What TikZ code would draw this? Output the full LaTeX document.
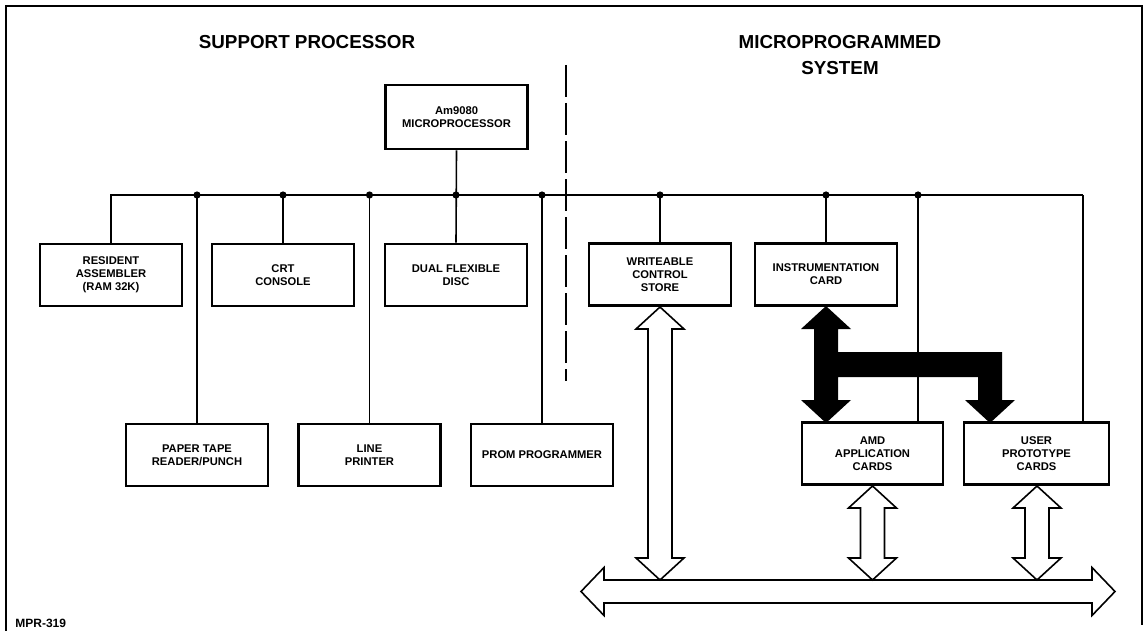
\documentclass[tikz,border=0pt]{standalone}
\usepackage{fontspec}
\setmainfont{Liberation Sans}
\newcommand\hvarrow[3]{% center x, top tip y, bottom tip y
  \draw[hollow] (#1,#2) -- (#1+24,#2+22) -- (#1+12,#2+22) -- (#1+12,#3-22) -- (#1+24,#3-22)
    -- (#1,#3) -- (#1-24,#3-22) -- (#1-12,#3-22) -- (#1-12,#2+22) -- (#1-24,#2+22) -- cycle;}
\begin{document}
\begin{tikzpicture}[x=0.5pt,y=-0.5pt,
  box/.style={draw, line width=1.3pt, minimum width=71pt, minimum height=31pt, inner sep=0pt,
    align=center, font=\fontsize{5.6}{6.5}\selectfont\bfseries},
  conn/.style={line width=0.8pt},
  dot/.style={circle, fill, inner sep=0pt, minimum size=3.6pt},
  title/.style={font=\fontsize{9.4}{13}\selectfont\bfseries, inner sep=0pt, align=center},
  hollow/.style={draw, fill=white, line width=0.8pt, line join=miter},
]
\useasboundingbox (0,0) rectangle (1145,631);
% frame
\draw[line width=0.8pt] (6,631) -- (6,6) -- (1142,6) -- (1142,625);

% titles
\node[title, anchor=base] (sp) at (307,49) {SUPPORT PROCESSOR};
\node[title] (ms) at (840,55.2) {MICROPROGRAMMED\\SYSTEM};

% separator
\draw[line width=1.4pt, dash pattern=on 16pt off 3pt] (566,65) -- (566,381);

% boxes
\node[box, minimum height=32pt] (am) at (456.5,117) {Am9080\\MICROPROCESSOR};
\node[box] (ra)  at (111,275)   {RESIDENT\\ASSEMBLER\\(RAM 32K)};
\node[box] (crt) at (283,275)   {CRT\\CONSOLE};
\node[box] (dfd) at (456,275)   {DUAL FLEXIBLE\\DISC};
\node[box] (wcs) at (660,274.5) {WRITEABLE\\CONTROL\\STORE};
\node[box] (ic)  at (826,274.5) {INSTRUMENTATION\\CARD};
\node[box] (pt)  at (197,455)   {PAPER TAPE\\READER/PUNCH};
\node[box] (lp)  at (369.5,455) {LINE\\PRINTER};
\node[box] (prom) at (542,455)  {PROM PROGRAMMER};
\node[box, minimum width=70.5pt] (amd) at (872.5,453.5) {AMD\\APPLICATION\\CARDS};
\node[box, minimum width=72.5pt] (user) at (1036.5,453.5) {USER\\PROTOTYPE\\CARDS};

% bus
\coordinate (busL) at (110,195);
\coordinate (busR) at (1083,195);
\coordinate (amdtap) at (918,195);
\draw[conn] (busL) -- (busR);
\draw[conn] (ra.north) -- (ra.north |- busL);
\draw[conn] (am.south) -- (dfd.north);
\draw[conn] (crt.north) -- (crt.north |- busL);
\draw[conn] (pt.north) -- (pt.north |- busL);
\draw[conn] (lp.north) -- (lp.north |- busL);
\draw[conn] (prom.north) -- (prom.north |- busL);
\draw[conn] (wcs.north) -- (wcs.north |- busL);
\draw[conn] (ic.north) -- (ic.north |- busL);
\draw[conn] (amdtap) -- (amdtap |- amd.north);
\draw[conn] (busR) -- (busR |- user.north);
\foreach \n in {pt,crt,lp,prom,wcs,ic} \node[dot] at (\n.north |- busL) {};
\node[dot] at (dfd.north |- busL) {};
\node[dot] at (amdtap) {};

% black arrow
\fill (826,306) -- (851,329) -- (838,329) -- (838,352) -- (1002,352) -- (1002,400) -- (1015,400)
  -- (990,423) -- (965,400) -- (978,400) -- (978,377) -- (838,377) -- (838,400) -- (851,400)
  -- (826,423) -- (801,400) -- (814,400) -- (814,329) -- (801,329) -- cycle;

% horizontal bus arrow
\draw[hollow] (581,591.5) -- (604,567.5) -- (604,580) -- (1092,580) -- (1092,567.5) -- (1115,591.5)
  -- (1092,615.5) -- (1092,603) -- (604,603) -- (604,615.5) -- cycle;

% vertical hollow arrows
\hvarrow{660}{307}{580}
\hvarrow{872.5}{486}{580}
\hvarrow{1037}{486}{580}

\node[anchor=base west, inner sep=0pt, font=\fontsize{6}{7}\selectfont\bfseries] (mpr) at (15,627) {MPR-319};
\end{tikzpicture}
\end{document}
